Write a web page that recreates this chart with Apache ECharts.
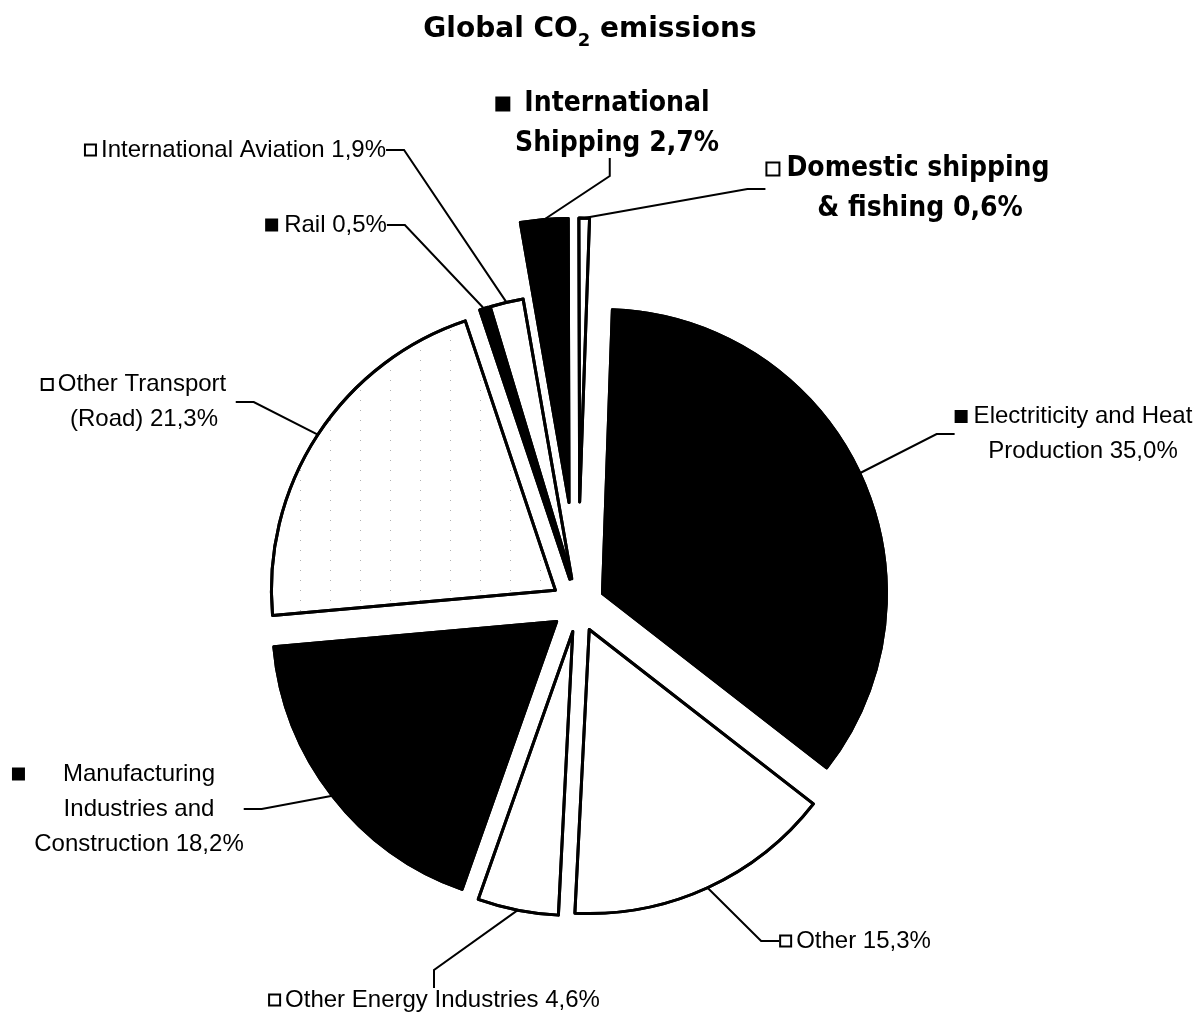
<!DOCTYPE html>
<html>
<head>
<meta charset="utf-8">
<script src="https://cdn.jsdelivr.net/npm/echarts@6/dist/echarts.min.js"></script>
<style>
  html, body { margin: 0; padding: 0; background: #ffffff; }
  #chart { width: 1204px; height: 1015px; }
</style>
</head>
<body>
<div id="chart"></div>
<script>
// Emission sectors as printed, with their line breaks
const categories = [
  'Electriticity and Heat\nProduction',
  'Other',
  'Other Energy Industries',
  'Manufacturing\nIndustries and\nConstruction',
  'Other Transport\n(Road)',
  'Rail',
  'International Aviation',
  'International\nShipping',
  'Domestic shipping\n& fishing'
];
// Share of global CO2 emissions, percent
const shares = [35.0, 15.3, 4.6, 18.2, 21.3, 0.5, 1.9, 2.7, 0.6];
// Slice fill: black or white
const fills = ['#000000', '#ffffff', '#ffffff', '#000000', '#ffffff', '#000000', '#ffffff', '#000000', '#ffffff'];
// Sectors whose label is set in the large bold type
const boldLabels = [false, false, false, false, false, false, false, true, true];
// Sectors filled with a light dotted screen
const dotted = [false, false, false, false, true, false, false, false, false];

// Layout: pie geometry, how far each slice is pulled out, label block centres
const CENTER = [578, 605];
const RADIUS = 284;
const START_ANGLE = 88;
const explode = [27, 27, 27, 27, 27, 27, 27, 103, 103];
const labelCentres = [[1083, 434], [856, 941], [435, 1000], [139, 809], [144, 402], [326, 225], [236, 150], [617, 124], [920, 189]];
const keyGaps = [6, 6, 6, 38, 6, 6, 6, 14, 8];

const FONT = '"Liberation Sans", Arial, sans-serif';
const NARROW = '"Liberation Sans Narrow", "DejaVu Sans Condensed", "Noto Sans", "Liberation Sans", sans-serif';
const BOX = 13, BOX_B = 15;

const rich = {
  t: { fontFamily: FONT, fontSize: 24, color: '#000', lineHeight: 35 },
  tb: { fontFamily: NARROW, fontSize: 28, fontWeight: 'bold', fontStyle: 'condensed', color: '#000', lineHeight: 40 },
  w: { width: BOX - 4, height: BOX - 4, backgroundColor: '#fff', borderColor: '#000', borderWidth: 2 },
  k: { width: BOX, height: BOX, backgroundColor: '#000' },
  wB: { width: BOX_B - 4, height: BOX_B - 4, backgroundColor: '#fff', borderColor: '#000', borderWidth: 2 },
  kB: { width: BOX_B, height: BOX_B, backgroundColor: '#000' }
};
keyGaps.forEach(function (g, i) {
  const bw = boldLabels[i] ? BOX_B : BOX;
  rich['g' + g] = { width: g, height: 1 };
  rich['p' + (g + bw)] = { width: g + bw, height: 1 };
});

function pct(v) {
  return v.toFixed(1).replace('.', ',') + '%';
}

// Key box + centred lines; a spacer balances the box so all lines share one centre
function labelText(i) {
  const lines = categories[i].split('\n');
  lines[lines.length - 1] += ' ' + pct(shares[i]);
  const big = boldLabels[i];
  const ts = big ? 'tb' : 't';
  const box = (fills[i] === '#000000' ? 'k' : 'w') + (big ? 'B' : '');
  const bw = big ? BOX_B : BOX;
  const g = keyGaps[i];
  return lines.map(function (line, n) {
    if (n === 0) {
      let s = '{' + box + '|}{g' + g + '|}{' + ts + '|' + line + '}';
      if (lines.length > 1) s += '{p' + (g + bw) + '|}';
      return s;
    }
    return '{' + ts + '|' + line + '}';
  }).join('\n');
}

// Sparse fine dot screen on the road-transport slice; other slices get an invisible one
function screen(visible) {
  return {
    symbol: 'rect',
    symbolSize: 1,
    color: visible ? 'rgba(0,0,0,0.3)' : 'rgba(0,0,0,0)',
    backgroundColor: null,
    dashArrayX: [1, 29],
    dashArrayY: [1, 9],
    rotation: 0
  };
}

// Each slice gets its own pie (same data, so the library lays out the same angles),
// with only that slice visible and the pie centre pushed out along the slice's bisector.
const total = shares.reduce(function (a, b) { return a + b; }, 0);
let before = 0;
const series = shares.map(function (v, i) {
  const mid = (START_ANGLE - (before + v / 2) / total * 360) * Math.PI / 180;
  before += v;
  const c = [CENTER[0] + Math.cos(mid) * explode[i], CENTER[1] - Math.sin(mid) * explode[i]];
  return {
    type: 'pie',
    name: categories[i].replace(/\n/g, ' '),
    center: c,
    radius: RADIUS,
    startAngle: START_ANGLE,
    clockwise: true,
    silent: true,
    avoidLabelOverlap: false,
    label: {
      position: 'outside',
      formatter: function (p) { return labelText(p.dataIndex); },
      rich: rich
    },
    labelLine: {
      length: 10,
      length2: 18,
      lineStyle: { color: '#000', width: 2 }
    },
    labelLayout: function (p) {
      const lc = labelCentres[p.dataIndex];
      return { x: lc[0], y: lc[1], align: 'center', verticalAlign: 'middle' };
    },
    data: shares.map(function (w, j) {
      const own = j === i;
      return {
        name: categories[j].replace(/\n/g, ' '),
        value: w,
        itemStyle: own
          ? { color: fills[j], borderColor: '#000', borderWidth: 3, decal: screen(dotted[j]) }
          : { color: 'rgba(0,0,0,0)', borderWidth: 0, decal: screen(false) },
        label: { show: own },
        labelLine: { show: own }
      };
    })
  };
});

const chart = echarts.init(document.getElementById('chart'), null, { renderer: 'canvas' });
chart.setOption({
  backgroundColor: '#ffffff',
  animation: false,
  aria: { enabled: true, decal: { show: true } },
  title: {
    text: '{a|Global CO}{s|2}{a| emissions}',
    left: 585,
    top: 3,
    textAlign: 'center',
    textStyle: {
      rich: {
        a: { fontFamily: '"DejaVu Sans", Verdana, sans-serif', fontWeight: 'bold', fontSize: 28, color: '#000', lineHeight: 44 },
        s: { fontFamily: '"DejaVu Sans", Verdana, sans-serif', fontWeight: 'bold', fontSize: 18, color: '#000', padding: [22, 0, 0, 0] }
      }
    }
  },
  series: series
});
</script>
</body>
</html>
